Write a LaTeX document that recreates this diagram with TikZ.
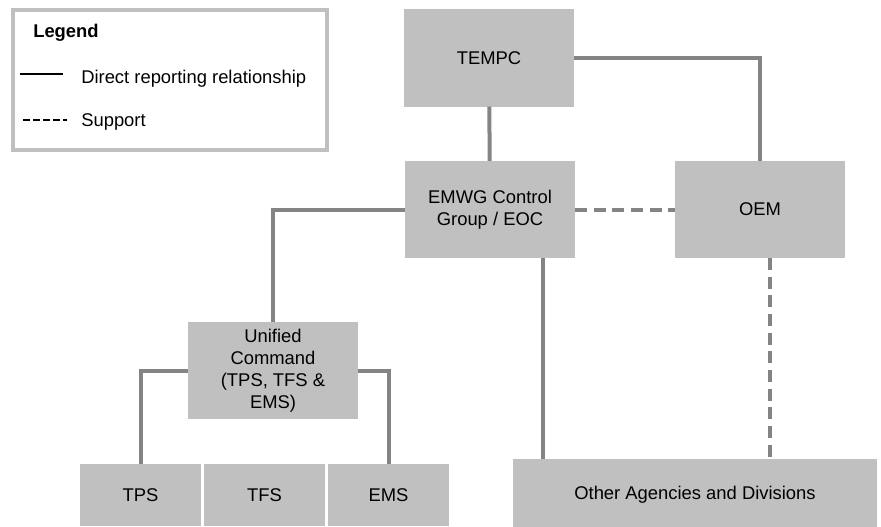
\documentclass[tikz,border=0pt]{standalone}
\usepackage{fontspec}
\setmainfont{Liberation Sans}
\definecolor{boxgray}{RGB}{192,192,192}
\definecolor{linegray}{RGB}{132,132,132}
\begin{document}
\begin{tikzpicture}[x=0.75pt,y=-0.75pt,font=\fontsize{13.8}{16.5}\selectfont,
    main node/.style={rectangle,fill=boxgray,align=center,inner sep=0pt,outer sep=0pt,minimum width=127.5pt,minimum height=73pt},
    unit node/.style={main node,minimum width=90.75pt,minimum height=46.5pt},
    legend box/.style={rectangle,draw=boxgray,line width=3pt,minimum width=235.5pt,minimum height=105pt},
    legend text/.style={anchor=base west,inner sep=0pt},
    link/.style={draw=linegray,line width=3pt},
    support/.style={link,dash pattern=on 9pt off 5pt},
    elbow/.style={to path={-| (\tikztotarget)}}]
    \useasboundingbox (0,0) rectangle (881,526);

    % legend
    \node[legend box] (legend) at (170,80) {};
    \node[legend text,font=\fontsize{13.8}{16.5}\selectfont\bfseries] (legendtitle) at (33,37) {Legend};
    \draw[line width=1.5pt] (20,74) -- (63,74);
    \node[legend text] (directtext) at (81,83) {Direct reporting relationship};
    \draw[line width=1.5pt,dash pattern=on 5.25pt off 2.25pt] (23,120) -- (67,120);
    \node[legend text] (supporttext) at (81,126) {Support};

    % organisation
    \node[main node] at (489, 58) (tempc) {TEMPC};
    \node[main node] at (490, 209.5) (emwg) {EMWG Control\\Group / EOC};
    \node[main node] at (760, 209.5) (oem) {OEM};
    \node[main node] at (273, 370.5) (unified) {Unified\\Command\\(TPS, TFS \&\\EMS)};
    \node[unit node] at (140.5, 495) (tps) {TPS};
    \node[unit node] at (264.5, 495) (tfs) {TFS};
    \node[unit node] at (388.5, 495) (ems) {EMS};
    \node[main node,minimum width=273pt,minimum height=54pt] at (695, 495) (other) {Other Agencies and Divisions};

    \coordinate (emwgdrop) at (543, 258);
    \coordinate (oemdrop) at (770, 258);

    \path
        (tempc) edge[link] (emwg)
        (tempc.east) edge[link, elbow] (oem.north)
        (emwg.west) edge[link, elbow] (unified.north)
        (emwg.east) edge[support] (oem.west)
        (emwgdrop) edge[link] (emwgdrop |- other.north)
        (oemdrop) edge[support] (oemdrop |- other.north)
        (unified.west) edge[link, elbow] (tps.north)
        (unified.east) edge[link, elbow] (ems.north)
        ;
\end{tikzpicture}
\end{document}
